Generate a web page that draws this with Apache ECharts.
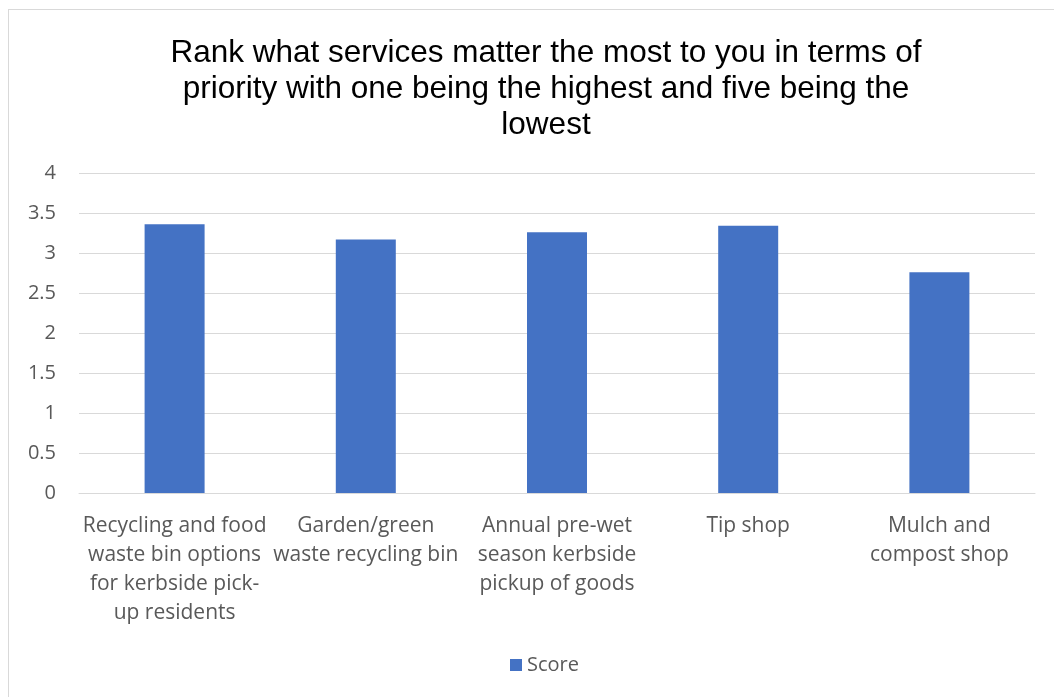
<!DOCTYPE html>
<html>
<head>
<meta charset="utf-8">
<script src="https://cdn.jsdelivr.net/npm/echarts@6/dist/echarts.min.js"></script>
<style>
  html, body { margin: 0; padding: 0; background: #fff; }
  #box { position: absolute; left: 8px; top: 9px; width: 1060px; height: 700px; border: 1px solid #d9d9d9; box-sizing: border-box; }
  #main { width: 1054px; height: 697px; position: absolute; left: 0; top: 0; }
</style>
</head>
<body>
<div id="box"></div>
<div id="main"></div>
<script>
const categories = [
  'Recycling and food\nwaste bin options\nfor kerbside pick-\nup residents',
  'Garden/green\nwaste recycling bin',
  'Annual pre-wet\nseason kerbside\npickup of goods',
  'Tip shop',
  'Mulch and\ncompost shop'
];
const scores = [3.36, 3.17, 3.26, 3.34, 2.76];
const yTicks = [0, 0.5, 1, 1.5, 2, 2.5, 3, 3.5, 4];

const chart = echarts.init(document.getElementById('main'));

const option = {
  animation: false,
  title: {
    text: 'Rank what services matter the most to you in terms of\npriority with one being the highest and five being the\nlowest',
    left: 541,
    top: 30,
    textAlign: 'center',
    textStyle: {
      fontFamily: 'Liberation Sans',
      fontSize: 31.5,
      fontWeight: 'normal',
      color: '#000',
      lineHeight: 36
    }
  },
  legend: {
    bottom: 17,
    left: 505,
    icon: 'rect',
    itemWidth: 12,
    itemHeight: 12,
    itemGap: 6,
    textStyle: { fontFamily: 'Open Sans', fontSize: 20, color: '#595959' },
    data: ['Score']
  },
  grid: { left: 79, right: 19, top: 173, bottom: 204 },
  xAxis: {
    type: 'category',
    data: categories,
    axisTick: { show: false },
    axisLine: { lineStyle: { color: '#d9d9d9' } },
    axisLabel: {
      interval: 0,
      margin: 19,
      fontFamily: 'Open Sans',
      fontSize: 21,
      lineHeight: 29,
      color: '#595959'
    }
  },
  yAxis: {
    type: 'value',
    min: yTicks[0],
    max: yTicks[yTicks.length - 1],
    interval: 0.5,
    axisLine: { show: false },
    axisTick: { show: false },
    splitLine: { lineStyle: { color: '#d9d9d9', width: 1 } },
    axisLabel: {
      margin: 23,
      fontFamily: 'Open Sans',
      fontSize: 20,
      color: '#595959'
    }
  },
  series: [{
    name: 'Score',
    type: 'bar',
    data: scores,
    barWidth: 60,
    itemStyle: { color: '#4472C4' }
  }]
};

chart.setOption(option);
</script>
</body>
</html>
